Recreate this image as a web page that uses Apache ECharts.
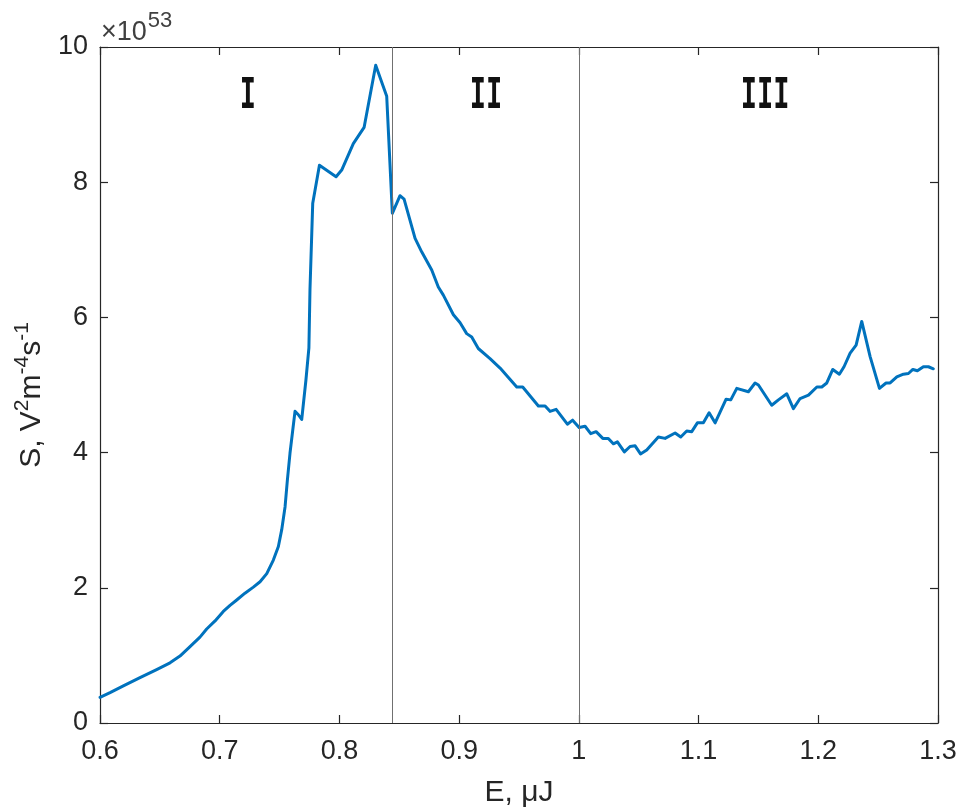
<!DOCTYPE html>
<html>
<head>
<meta charset="utf-8">
<script src="https://cdn.jsdelivr.net/npm/echarts@6/dist/echarts.min.js"></script>
<style>
  html, body { margin: 0; padding: 0; background: #fff; }
  #chart { width: 966px; height: 810px; }
</style>
</head>
<body>
<div id="chart"></div>
<script>
// Spectral density S versus pulse energy E (S in units of 1e53 V^2 m^-4 s^-1)
const energy = [
  0.600, 0.6084, 0.6195, 0.6334, 0.6473, 0.6585, 0.6668, 0.6752, 0.6835, 0.6891,
  0.6961, 0.7030, 0.7086, 0.7142, 0.7211, 0.7281, 0.7337, 0.7393, 0.7448, 0.7490,
  0.7518, 0.7546, 0.7565, 0.7587, 0.7610, 0.7629, 0.7657, 0.7685, 0.7720, 0.7745,
  0.7754, 0.7777, 0.7833, 0.7972, 0.8019, 0.8116, 0.8206, 0.8303, 0.8395, 0.8442,
  0.8506, 0.8540, 0.8632, 0.8687, 0.8771, 0.8826, 0.8868, 0.8952, 0.9008, 0.9063,
  0.9105, 0.9160, 0.9258, 0.9342, 0.9481, 0.9531, 0.9662, 0.9718, 0.9759, 0.9810,
  0.9904, 0.9948, 1.0002, 1.0052, 1.0099, 1.0144, 1.0200, 1.0246, 1.0288, 1.0322,
  1.0380, 1.0428, 1.0470, 1.0515, 1.0567, 1.0664, 1.0720, 1.0804, 1.0851, 1.0901,
  1.0943, 1.0990, 1.1040, 1.1088, 1.1138, 1.1230, 1.1269, 1.1319, 1.1416, 1.1472,
  1.1500, 1.1611, 1.1667, 1.1737, 1.1792, 1.1848, 1.1918, 1.1988, 1.2029, 1.2071,
  1.2121, 1.2176, 1.2215, 1.2266, 1.2316, 1.2363, 1.2433, 1.2511, 1.2566, 1.2600,
  1.2656, 1.2711, 1.2753, 1.2790, 1.2828, 1.2878, 1.2920, 1.2961
];
const signal = [
  0.38, 0.45, 0.55, 0.67, 0.79, 0.89, 0.99, 1.13, 1.27, 1.39,
  1.51, 1.65, 1.74, 1.82, 1.92, 2.01, 2.09, 2.21, 2.41, 2.61,
  2.86, 3.20, 3.59, 3.99, 4.33, 4.61, 4.56, 4.49, 5.07, 5.55,
  6.41, 7.69, 8.25, 8.08, 8.18, 8.57, 8.81, 9.73, 9.27, 7.54,
  7.80, 7.75, 7.17, 6.97, 6.70, 6.45, 6.33, 6.04, 5.92, 5.76,
  5.71, 5.54, 5.39, 5.25, 4.97, 4.97, 4.69, 4.69, 4.61, 4.64,
  4.42, 4.48, 4.37, 4.39, 4.28, 4.31, 4.21, 4.21, 4.13, 4.16,
  4.01, 4.09, 4.10, 3.98, 4.04, 4.23, 4.21, 4.29, 4.23, 4.32,
  4.31, 4.44, 4.44, 4.59, 4.44, 4.79, 4.78, 4.95, 4.90, 5.03,
  5.00, 4.70, 4.78, 4.87, 4.65, 4.80, 4.85, 4.97, 4.97, 5.03,
  5.23, 5.16, 5.27, 5.47, 5.59, 5.94, 5.42, 4.95, 5.03, 5.03,
  5.12, 5.16, 5.17, 5.23, 5.21, 5.27, 5.27, 5.24
];

// Region boundaries and region names
const boundaries = [0.8442, 1.0];
const regionNames = ['I', 'II', 'III'];
const regionCenters = [0.7236, 0.9225, 1.1555];
const regionLevel = 9.26;

// Axis ranges and tick settings
const xTicks = { min: 0.6, max: 1.3, step: 0.1 };
const yTicks = { min: 0, max: 10, step: 2 };

const axisColor = '#262626';
const fontFamily = 'Liberation Sans, Arial, sans-serif';
const tickFont = 27;
const labelFont = 30;

const chart = echarts.init(document.getElementById('chart'), null, { renderer: 'canvas' });

const fmt = v => String(+v.toFixed(2));

function xAxisDef(pos, showLabels, name) {
  return {
    type: 'value', position: pos,
    min: xTicks.min, max: xTicks.max, interval: xTicks.step,
    name: name || '', nameLocation: 'middle', nameGap: 55,
    nameTextStyle: { color: axisColor, fontSize: labelFont, fontFamily },
    axisLine: { show: true, onZero: false, lineStyle: { color: axisColor, width: 1.2 } },
    axisTick: { show: true, inside: true, length: 8, lineStyle: { color: axisColor, width: 1.2 } },
    axisLabel: { show: showLabels, color: axisColor, fontSize: tickFont, fontFamily, margin: 15, formatter: fmt },
    splitLine: { show: false }
  };
}
function yAxisDef(pos, showLabels, name) {
  return {
    type: 'value', position: pos,
    min: yTicks.min, max: yTicks.max, interval: yTicks.step,
    name: name || '', nameLocation: 'middle', nameGap: 48, nameRotate: 90,
    nameTextStyle: {
      color: axisColor, fontFamily,
      rich: {
        m: { fontSize: labelFont, fontFamily, color: axisColor, lineHeight: 40, verticalAlign: 'bottom' },
        s: { fontSize: 21, fontFamily, color: axisColor, lineHeight: 40, verticalAlign: 'bottom', padding: [0, 0, 14, 0] },
        e: { fontSize: 21, fontFamily, color: axisColor, lineHeight: 40, verticalAlign: 'bottom', padding: [0, 20, 14, 0] }
      }
    },
    axisLine: { show: true, onZero: false, lineStyle: { color: axisColor, width: 1.2 } },
    axisTick: { show: true, inside: true, length: 8, lineStyle: { color: axisColor, width: 1.2 } },
    axisLabel: { show: showLabels, color: axisColor, fontSize: tickFont, fontFamily, margin: 12, formatter: fmt },
    splitLine: { show: false }
  };
}

const points = energy.map((e, i) => [e, signal[i]]);

chart.setOption({
  animation: false,
  backgroundColor: '#ffffff',
  grid: { left: 100, right: 28, top: 47, bottom: 87, containLabel: false, outerBoundsMode: 'none' },
  xAxis: [
    xAxisDef('bottom', true, 'E, μJ'),
    xAxisDef('top', false)
  ],
  yAxis: [
    yAxisDef('left', true, '{m|S, V}{s|2}{m|m}{s|-4}{m|s}{e|-1}'),
    yAxisDef('right', false)
  ],
  series: [
    {
      type: 'line',
      data: points,
      showSymbol: false,
      smooth: false,
      lineStyle: { color: '#0072BD', width: 3, join: 'round', cap: 'round' },
      z: 3,
      markLine: {
        silent: true,
        precision: 4,
        symbol: ['none', 'none'],
        label: { show: false },
        lineStyle: { color: '#707070', width: 1, type: 'solid' },
        data: boundaries.map(b => ({ xAxis: b }))
      }
    }
  ]
});

// Region names, placed through the axis scales
const regionGraphics = regionNames.map((name, i) => {
  const p = chart.convertToPixel({ xAxisIndex: 0, yAxisIndex: 0 }, [regionCenters[i], regionLevel]);
  return {
    type: 'text',
    x: p[0], y: p[1],
    scaleY: 1.55,
    style: {
      text: name,
      fontFamily: 'DejaVu Sans Mono, Liberation Mono, monospace',
      fontWeight: 'bold',
      fontSize: 27,
      fill: '#111',
      align: 'center',
      verticalAlign: 'middle'
    },
    z: 10
  };
});

// Exponent of the y scale, at the top-left corner of the axes
const topLeft = chart.convertToPixel({ xAxisIndex: 0, yAxisIndex: 0 }, [xTicks.min, yTicks.max]);
const exponentGraphic = {
  type: 'text',
  x: topLeft[0] + 1, y: topLeft[1] - 1,
  style: {
    text: '{x|×10}{s|53}',
    align: 'left',
    verticalAlign: 'bottom',
    rich: {
      x: { fontSize: tickFont, fontFamily, fill: '#404040', lineHeight: 34, verticalAlign: 'bottom' },
      s: { fontSize: 22, fontFamily, fill: '#404040', lineHeight: 34, verticalAlign: 'bottom', padding: [0, 0, 14, 1] }
    }
  },
  z: 10
};

chart.setOption({ graphic: regionGraphics.concat([exponentGraphic]) });
</script>
</body>
</html>
